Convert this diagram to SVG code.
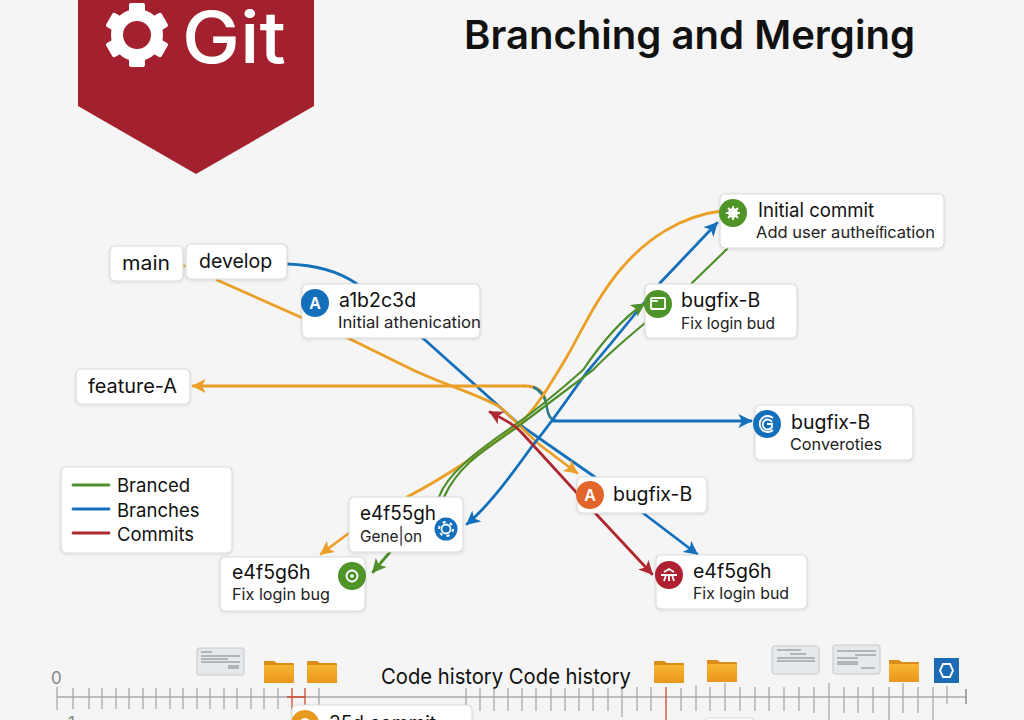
<svg xmlns="http://www.w3.org/2000/svg" xmlns:xlink="http://www.w3.org/1999/xlink" width="1024" height="720" viewBox="0 0 1024 720">
<style>
text{font-family:Inter,"Liberation Sans",sans-serif;fill:#111}
.box{fill:#fff;stroke:#dcdcdc;stroke-width:1.2;filter:url(#sh)}
.t{font-size:19.5px}
.s{font-size:16.5px;fill:#222}
.ic{fill:none;stroke:#fff;stroke-width:1.8}
.c{fill:none;stroke-width:2.8;stroke-linecap:round}
.bl{stroke:#1570bb}.or{stroke:#eb9f26}.gr{stroke:#4f8f2b}.re{stroke:#ae2830}
.tick{fill:none;stroke:#a8a8a8;stroke-width:1.3}
.card{fill:#e6e9ec;stroke:#c4c8cc;stroke-width:1}
.cl{stroke:#666;stroke-width:.8;fill:none}
</style>
<defs>
<filter id="sh" x="-10%" y="-10%" width="120%" height="130%"><feDropShadow dx="0" dy="1" stdDeviation="1.5" flood-color="#000" flood-opacity=".12"/></filter>
<marker id="ab" viewBox="0 0 10 10" refX="9" refY="5" markerWidth="14" markerHeight="14" markerUnits="userSpaceOnUse" orient="auto-start-reverse"><path d="M0 0L10 5L0 10L2.5 5Z" fill="#1570bb"/></marker>
<marker id="ao" viewBox="0 0 10 10" refX="9" refY="5" markerWidth="14" markerHeight="14" markerUnits="userSpaceOnUse" orient="auto-start-reverse"><path d="M0 0L10 5L0 10L2.5 5Z" fill="#eb9f26"/></marker>
<marker id="ag" viewBox="0 0 10 10" refX="9" refY="5" markerWidth="14" markerHeight="14" markerUnits="userSpaceOnUse" orient="auto-start-reverse"><path d="M0 0L10 5L0 10L2.5 5Z" fill="#4f8f2b"/></marker>
<marker id="ar" viewBox="0 0 10 10" refX="9" refY="5" markerWidth="14" markerHeight="14" markerUnits="userSpaceOnUse" orient="auto-start-reverse"><path d="M0 0L10 5L0 10L2.5 5Z" fill="#ae2830"/></marker>
<linearGradient id="fo" x1="0" y1="0" x2="0" y2="1"><stop offset="0" stop-color="#f9b632"/><stop offset="1" stop-color="#e8961c"/></linearGradient>
<g id="folder"><path d="M0 2a1 1 0 0 1 1-1H10L13 3H29a1 1 0 0 1 1 1V23H0Z" fill="#d98c1a"/><rect y="5" width="30" height="18" rx="1" fill="url(#fo)"/></g>
</defs>
<rect width="1024" height="720" fill="#f5f5f5"/>

<g id="connectors">
<path class="c or" d="M183 266H188" style="stroke:#d9b13a" stroke-width="2"/>
<path class="c bl" d="M287 264C318 265 340 272 357 284L425 340L520 425L592 475L643 513L697 554" marker-end="url(#ab)"/>
<path class="c or" d="M217 280L350 339L413 370C445 385 480 395 500 407C515 420 530 437 540 445L577 473" marker-end="url(#ao)"/>
<path class="c or" d="M525 386H193" marker-end="url(#ao)"/>
<path class="c or" d="M525 386C536 386 542 390 545 398"/>
<path d="M533 387C542 391 546 398 547 408C548 416 551 420 556 421" fill="none" stroke="#2c7d86" stroke-width="2.500"/>
<path class="c bl" d="M553 421H751" marker-end="url(#ab)"/>
<path class="c or" d="M721 211C680 216 645 240 620 270C595 300 580 335 565 360C550 385 535 410 520 423C490 448 440 480 407 497"/>
<path class="c or" d="M349 533L321 554" marker-end="url(#ao)"/>
<path class="c bl" d="M717 223L660 283C640 308 610 345 587 372C570 395 550 425 533 445C515 470 490 505 467 524" marker-start="url(#ab)" marker-end="url(#ab)"/>
<path class="c gr" style="stroke-width:2.2" d="M727 249L692 283M645 323C625 340 610 352 593 370C560 395 540 410 520 425C490 447 460 462 444 497"/>
<path class="c gr" style="stroke-width:2.2" d="M644 304C620 320 600 345 583 370C555 395 530 415 505 432C480 450 448 472 439 497" marker-start="url(#ag)"/>
<path class="c gr" d="M390 552L373 572" marker-end="url(#ag)"/>
<path class="c re" d="M490 412C505 420 515 425 522 433L597 515L652 574" marker-start="url(#ar)" marker-end="url(#ar)"/>
</g>

<g id="banner">
<path d="M78 0H314V106L196 174L78 106Z" fill="#a3212e"/>
<g fill="#fff"><circle cx="137" cy="35" r="20" fill="none" stroke="#fff" stroke-width="12"/>
<g id="teeth"><rect x="129" y="3" width="16" height="12" rx="2"/><rect x="129" y="3" width="16" height="12" rx="2" transform="rotate(60 137 35)"/><rect x="129" y="3" width="16" height="12" rx="2" transform="rotate(120 137 35)"/><rect x="129" y="3" width="16" height="12" rx="2" transform="rotate(180 137 35)"/><rect x="129" y="3" width="16" height="12" rx="2" transform="rotate(240 137 35)"/><rect x="129" y="3" width="16" height="12" rx="2" transform="rotate(300 137 35)"/></g></g>
<text x="182" y="63" font-size="71" font-weight="500" textLength="104" lengthAdjust="spacingAndGlyphs" style="fill:#fff">Git</text>
</g>
<text id="title" x="464" y="49" font-size="40" font-weight="600" textLength="451" lengthAdjust="spacingAndGlyphs">Branching and Merging</text>

<g id="n-main"><rect class="box" x="110" y="246" width="73" height="35" rx="5"/><text class="t" x="122" y="270" textLength="48" lengthAdjust="spacingAndGlyphs">main</text></g>
<g id="n-develop"><rect class="box" x="186" y="244" width="101" height="35" rx="5"/><text class="t" x="199" y="268">develop</text></g>
<g id="n-a1b2c3d"><rect class="box" x="302" y="284" width="178" height="54" rx="5"/><circle cx="315" cy="303" r="14" fill="#1570bb"/><text x="315" y="309" font-size="16" font-weight="600" text-anchor="middle" style="fill:#fff">A</text><text class="t" x="339" y="307">a1b2c3d</text><text class="s" x="338" y="328" textLength="143" lengthAdjust="spacingAndGlyphs">Initial athenication</text></g>
<g id="n-feature-a"><rect class="box" x="76" y="369" width="114" height="35" rx="5"/><text class="t" x="88" y="393" textLength="89" lengthAdjust="spacingAndGlyphs">feature-A</text></g>
<g id="n-initial"><rect class="box" x="720" y="194" width="224" height="54" rx="5"/><circle cx="733" cy="213" r="14" fill="#4f9428"/><circle class="ic" cx="733" cy="213" r="4" stroke-width="2.200"/><path class="ic" d="M733 206V220M726 213H740M728 208L738 218M738 208L728 218" stroke-width="1.300"/><text class="t" x="758" y="217" textLength="116" lengthAdjust="spacingAndGlyphs">Initial commit</text><text class="s" x="756" y="238" textLength="179" lengthAdjust="spacingAndGlyphs">Add user autheíﬁcation</text></g>
<g id="n-bugfix-b1"><rect class="box" x="645" y="284" width="152" height="54" rx="5"/><circle cx="658" cy="304" r="14" fill="#4f9428"/><rect class="ic" x="651" y="298" width="14" height="11" rx="1" stroke-width="1"/><path class="ic" d="M651 301H658" stroke-width="1"/><text class="t" x="681" y="307">bugfix-B</text><text class="s" x="681" y="329" textLength="94" lengthAdjust="spacingAndGlyphs">Fix login bud</text></g>
<g id="n-bugfix-b2"><rect class="box" x="755" y="405" width="158" height="55" rx="5"/><circle cx="767" cy="424" r="14" fill="#1570bb"/><path class="ic" d="M773 418A8 8 0 1 0 773 430M772 422A5 5 0 1 0 772 427V424H767" stroke-width="1.200"/><text class="t" x="791" y="429">bugfix-B</text><text class="s" x="790" y="450" textLength="92" lengthAdjust="spacingAndGlyphs">Converoties</text></g>
<g id="n-bugfix-b3"><rect class="box" x="577" y="477" width="130" height="36" rx="5"/><circle cx="590" cy="495" r="14" fill="#e2652a"/><text x="590" y="501" font-size="16" font-weight="600" text-anchor="middle" style="fill:#fff">A</text><text class="t" x="613" y="501">bugfix-B</text></g>
<g id="n-e4f55gh"><rect class="box" x="349" y="497" width="114" height="55" rx="5"/><circle cx="446" cy="529" r="11.500" fill="#1570bb"/><circle class="ic" cx="446" cy="529" r="4.500" stroke-width="3.500"/><circle cx="446" cy="529" r="7" fill="none" stroke="#fff" stroke-width="2" stroke-dasharray="3 4.330"/><text class="t" x="360" y="520" textLength="76" lengthAdjust="spacingAndGlyphs">e4f55gh</text><text class="s" x="360" y="542" textLength="62" lengthAdjust="spacingAndGlyphs">Gene|on</text></g>
<g id="n-e4f5g6h-l"><rect class="box" x="220" y="557" width="145" height="54" rx="5"/><circle cx="352" cy="576" r="14" fill="#4f9428"/><circle class="ic" cx="352" cy="576" r="5.500" stroke-width="1.500"/><circle cx="352" cy="576" r="1.800" fill="#fff"/><text class="t" x="232" y="579">e4f5g6h</text><text class="s" x="232" y="600" textLength="98" lengthAdjust="spacingAndGlyphs">Fix login bug</text></g>
<g id="n-e4f5g6h-r"><rect class="box" x="656" y="555" width="151" height="54" rx="5"/><circle cx="669" cy="575" r="14" fill="#ae2030"/><path class="ic" d="M661 575H677M664 572L669 569L674 572M666 575L664 581M672 575L674 581M669 575V581" stroke-width="1.300"/><text class="t" x="693" y="578">e4f5g6h</text><text class="s" x="693" y="599" textLength="96" lengthAdjust="spacingAndGlyphs">Fix login bud</text></g>

<g id="legend"><rect class="box" x="61" y="467" width="171" height="86" rx="5"/>
<path class="c gr" d="M73 485H109"/><path class="c bl" d="M73 509H109"/><path class="c re" d="M73 533H109"/>
<text x="117" y="492" font-size="18.500">Branced</text><text x="117" y="517" font-size="18.500">Branches</text><text x="117" y="541" font-size="18.500">Commits</text></g>

<g id="timeline">
<text x="51" y="684" font-size="17" style="fill:#888">0</text>
<text x="68" y="729" font-size="17" style="fill:#888">1</text>
<path class="tick" d="M57 697H966"/>
<path class="tick" d="M57 687V710M73 688V709M89 688V709M102 688V709M116 688V709M129 688V709M143 688V709M156 688V709M170 688V709M183 688V709M197 688V709M210 688V709M224 688V709M237 688V709M251 688V709M264 688V709M278 688V709M319 688V706M466 688V709M480 688V711M494 688V711M508 688V711M522 688V711M536 688V711M551 688V711M565 688V711M579 688V711M593 688V711M608 688V711M622 686V717M637 687V711M651 687V711M681 688V711M696 685V711M710 687V711M725 683V711M740 687V711M755 687V711M769 687V711M784 687V711M799 687V711M814 687V713M829 683V720M844 687V713M858 687V713M873 687V713M889 687V720M903 683V713M918 687V713M933 687V720M947 686V704"/>
<path d="M966 689V704" stroke="#888" stroke-width="1.400" fill="none"/>
<path d="M292 688V710M305 688V706M287 697H305M666 687V720" stroke="#cf4a2a" stroke-width="1.300" fill="none"/>
<use xlink:href="#folder" href="#folder" x="264" y="660"/>
<use xlink:href="#folder" href="#folder" x="307" y="660"/>
<use xlink:href="#folder" href="#folder" x="654" y="660"/>
<use xlink:href="#folder" href="#folder" x="707" y="659"/>
<use xlink:href="#folder" href="#folder" x="889" y="659"/>
<rect class="card" x="197" y="648" width="47" height="27" rx="2"/><path class="cl" d="M201 652H212M201 656H240M201 659H228M201 662H240M228 666H239M228 668H239"/>
<rect class="card" x="772" y="646" width="47" height="28" rx="2"/><path class="cl" d="M777 650H801M790 654H806M777 658H815M777 661H815"/>
<rect class="card" x="833" y="645" width="47" height="29" rx="2"/><path class="cl" d="M837 651H876M855 655H876M837 658H858M837 662H858M837 664H858M861 668H875"/>
<rect x="934" y="658" width="25" height="25" fill="#1c6bb3"/><path class="ic" d="M940 670.500L943 664H950L953 670.500L950 677H943Z"/>
<text x="381" y="684" font-size="21.500" textLength="250" lengthAdjust="spacingAndGlyphs">Code history Code history</text>
<g id="n-35d"><rect class="box" x="292" y="705" width="180" height="40" rx="5"/><circle cx="305" cy="724" r="14" fill="#e89a1e"/><circle class="ic" cx="305" cy="724" r="5" stroke-width="3"/><text class="t" x="329" y="730" textLength="107" lengthAdjust="spacingAndGlyphs">35d commit</text></g>
<rect class="box" x="706" y="718" width="47" height="20" rx="2"/>
</g>
</svg>
